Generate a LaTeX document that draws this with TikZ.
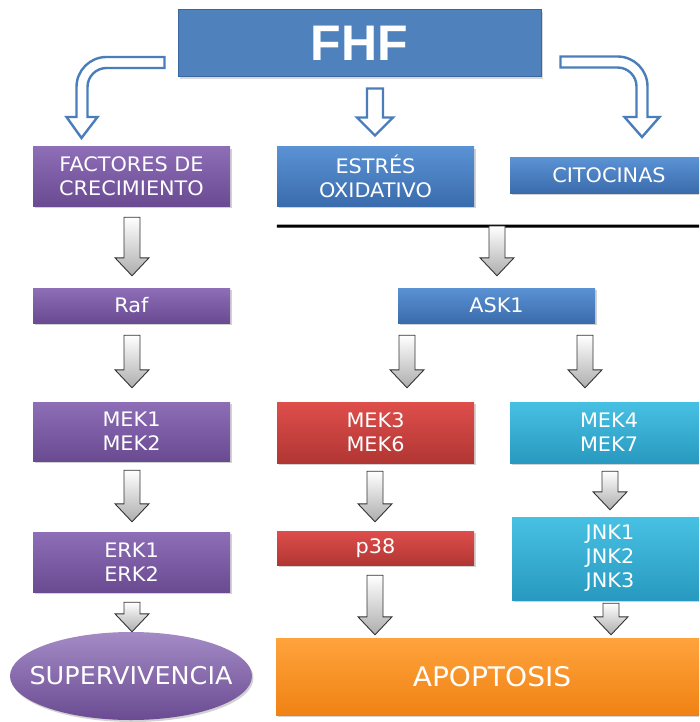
\documentclass[tikz,border=0pt]{standalone}
\usepackage{fontspec}
\setmainfont{DejaVu Sans}[FakeStretch=1.04]
\newfontfamily\fhffont{Liberation Sans}
\usetikzlibrary{calc,shadows,shapes.geometric}
\definecolor{pTop}{HTML}{8D6EB7}
\definecolor{pBot}{HTML}{6A4B92}
\definecolor{bTop}{HTML}{5A92D3}
\definecolor{bBot}{HTML}{3A6CAD}
\definecolor{rTop}{HTML}{DE4E4B}
\definecolor{rBot}{HTML}{B13633}
\definecolor{cTop}{HTML}{47C1E3}
\definecolor{cBot}{HTML}{2899C0}
\definecolor{oTop}{HTML}{FFA33C}
\definecolor{oBot}{HTML}{F08214}
\definecolor{fhfBlue}{HTML}{4F81BD}
\definecolor{fhfEdge}{HTML}{3A679E}
\definecolor{hBlue}{HTML}{4A7EBB}
\tikzset{
  box/.style={rectangle, inner sep=0pt, text=white, align=center,
    font=\fontsize{20}{24}\selectfont,
    drop shadow={opacity=0.35, shadow xshift=1.5pt, shadow yshift=-2pt}},
  purplebox/.style={box, top color=pTop, bottom color=pBot},
  bluebox/.style={box, top color=bTop, bottom color=bBot},
  redbox/.style={box, top color=rTop, bottom color=rBot},
  cyanbox/.style={box, top color=cTop, bottom color=cBot},
  orangebox/.style={box, top color=oTop, bottom color=oBot},
  wide/.style={minimum width=197pt},
  hollow/.style={draw=hBlue, line width=2.4pt, fill=white, line join=miter},
  grayarr/.style={draw=black!80, line width=0.9pt, top color=white,
    bottom color=black!32, line join=miter},
}
\newcommand{\grayarrow}[2]{%
  \draw[grayarr] let \p1=(#1), \p2=(#2) in
    (\x1-8pt,\y1) -- (\x1+8pt,\y1) -- (\x1+8pt,\y2+18pt) -- (\x1+17pt,\y2+18pt)
    -- (\x1,\y2) -- (\x1-17pt,\y2+18pt) -- (\x1-8pt,\y2+18pt) -- cycle;}
\begin{document}
\begin{tikzpicture}[x=1pt,y=-1pt]
\path[clip, use as bounding box] (0,0) rectangle (699,722);
\fill[white] (0,0) rectangle (699,722);

% top box
\node[rectangle, draw=fhfEdge, line width=1pt, fill=fhfBlue, minimum width=363pt,
  minimum height=67pt, text=white, font=\fhffont\bfseries\fontsize{50}{50}\selectfont,
  drop shadow={opacity=0.3, shadow xshift=1.5pt, shadow yshift=-2pt}]
  (fhf) at (359.5,43.5) {FHF};

% second row
\node[purplebox, wide, minimum height=59pt] (fact) at (131.5,176.5) {FACTORES DE\\CRECIMIENTO};
\node[bluebox, wide, minimum height=59pt] (estres) at (375.5,176.5) {ESTRÉS\\OXIDATIVO};
\node[bluebox, minimum width=198pt, minimum height=35pt] (cito) at (609,175.5) {CITOCINAS};

% separator line
\coordinate (lineL) at ($(estres.south west)+(0,20)$);
\coordinate (lineR) at (699,226);
\draw[line width=3pt] (lineL) -- (lineR);
\coordinate (lineask) at (497,226);

% third row
\node[purplebox, wide, minimum height=35pt] (raf) at (131.5,305.5) {Raf};
\node[bluebox, wide, minimum height=35pt] (ask) at (496.5,305.5) {ASK1};

% fourth row
\node[purplebox, wide, minimum height=59pt] (mek12) at (131.5,431.5) {MEK1\\MEK2};
\node[redbox, wide, minimum height=61pt] (mek36) at (375.5,432.5) {MEK3\\MEK6};
\node[cyanbox, minimum width=198pt, minimum height=61pt] (mek47) at (609,432.5) {MEK4\\MEK7};

% fifth row
\node[purplebox, wide, minimum height=60pt] (erk) at (131.5,562) {ERK1\\ERK2};
\node[redbox, wide, minimum height=34pt] (p38) at (375.5,548) {p38};
\node[cyanbox, minimum width=196pt, minimum height=83pt] (jnk) at (610,558.5) {JNK1\\JNK2\\JNK3};

% outcomes
\node[ellipse, inner xsep=-30pt, inner ysep=0pt, minimum width=242pt, minimum height=88pt,
  top color=pTop!80!white, bottom color=pBot, text=white,
  font=\fontsize{24.5}{28}\selectfont,
  drop shadow={opacity=0.35, shadow xshift=1.5pt, shadow yshift=-2pt}]
  (sup) at (131,676) {SUPERVIVENCIA};
\node[orangebox, minimum width=432pt, minimum height=77pt,
  font=\fontsize{27}{30}\selectfont] (apop) at (492,676.5) {APOPTOSIS};

% hollow arrows from FHF
\coordinate (la) at ($(fhf.west)+(-13,19)$);
\begin{scope}[shift={(la)}]
\draw[hollow] (0,-5.5) -- (-58,-5.5) .. controls (-74.6,-5.5) and (-88,7.9) .. (-88,24.5)
  -- (-88,54.5) -- (-98,54.5) -- (-83,75.5) -- (-67,54.5) -- (-77,54.5) -- (-77,24.5)
  .. controls (-77,14) and (-68.5,5.5) .. (-58,5.5) -- (0,5.5) -- cycle;
\end{scope}
\coordinate (ma) at ($(fhf.south)+(15.5,11)$);
\begin{scope}[shift={(ma)}]
\draw[hollow] (-8,0) -- (8,0) -- (8,29) -- (18,29) -- (0,47) -- (-18,29) -- (-8,29) -- cycle;
\end{scope}
\coordinate (ra) at ($(fhf.east)+(19,18.5)$);
\begin{scope}[shift={(ra)}]
\draw[hollow] (0,-5.5) -- (57,-5.5) .. controls (73.6,-5.5) and (87,7.9) .. (87,24.5)
  -- (87,55) -- (99,55) -- (81.5,75) -- (64,55) -- (76,55) -- (76,24.5)
  .. controls (76,14) and (67.5,5.5) .. (57,5.5) -- (0,5.5) -- cycle;
\end{scope}

% gray arrows
\coordinate (g1s) at ($(fact.south)+(0.5,11)$);  \coordinate (g1e) at ($(raf.north)+(0,-12)$);
\grayarrow{g1s}{g1e}
\coordinate (g2s) at ($(raf.south)+(0.5,12)$);   \coordinate (g2e) at ($(mek12.north)+(0,-14)$);
\grayarrow{g2s}{g2e}
\coordinate (g3s) at ($(mek12.south)+(0.5,9)$);  \coordinate (g3e) at ($(erk.north)+(0,-10)$);
\grayarrow{g3s}{g3e}
\coordinate (g4s) at ($(erk.south)+(0.5,10)$);   \coordinate (g4e) at ($(sup.north)+(0,0)$);
\grayarrow{g4s}{g4e}
\coordinate (g5e) at ($(ask.north)+(0,-12)$);
\grayarrow{lineask}{g5e}
\coordinate (g6s) at ($(ask.south)+(-89.5,12)$); \coordinate (g6e) at ($(mek36.north)+(0,-14)$);
\grayarrow{g6s}{g6e}
\coordinate (g7s) at ($(ask.south)+(88.5,12)$);  \coordinate (g7e) at ($(mek47.north)+(0,-14)$);
\grayarrow{g7s}{g7e}
\coordinate (g8s) at ($(mek36.south)+(-0.5,8)$); \coordinate (g8e) at ($(p38.north)+(0,-9)$);
\grayarrow{g8s}{g8e}
\coordinate (g9s) at ($(mek47.south)+(1,8)$);    \coordinate (g9e) at ($(jnk.north)+(0,-7)$);
\grayarrow{g9s}{g9e}
\coordinate (g10s) at ($(p38.south)+(-0.5,10)$); \coordinate (g10e) at ($(apop.north)+(0,-3)$);
\grayarrow{g10s}{g10e}
\coordinate (g11s) at ($(jnk.south)+(1,3)$);     \coordinate (g11e) at ($(apop.north)+(0,-3)$);
\grayarrow{g11s}{g11e}
\end{tikzpicture}
\end{document}
